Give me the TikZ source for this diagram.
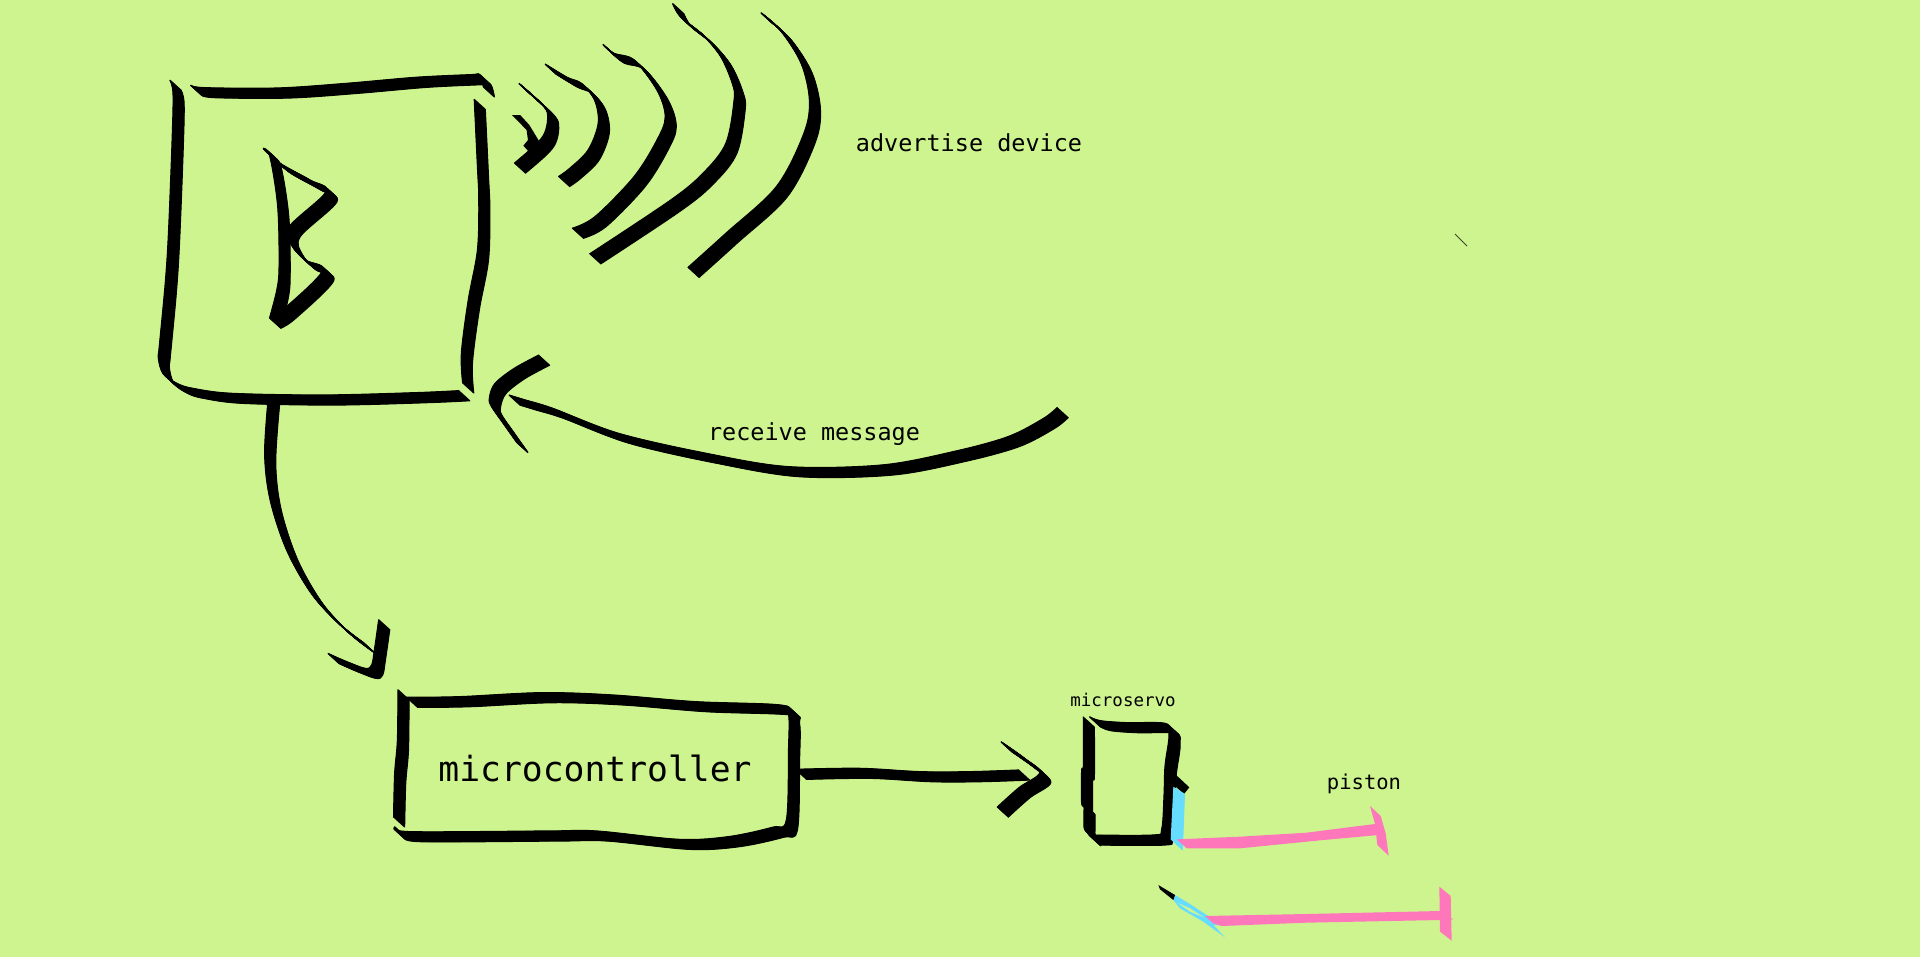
\documentclass[tikz,border=0pt]{standalone}
\usepackage{fontspec}
\setmonofont{DejaVu Sans Mono}
\definecolor{paper}{HTML}{CEF48F}
\definecolor{wire}{HTML}{66DDFF}
\definecolor{rod}{HTML}{FF77BB}
% calligraphic pen: the path is swept along the nib vector (#1,#2) in pixels
\newcommand{\inkstroke}[3]{%
  \foreach \t in {0,...,24}{%
    \draw[ink,shift={({\t/24*#1*0.75pt},{-\t/24*#2*0.75pt})}] plot[smooth,tension=0.55] coordinates {#3};
  }}
\tikzset{
  ink/.style={line width=0.9pt,black,line join=round},
  label/.style={font=\ttfamily,inner sep=0pt,text=black},
  viewA/.style={shift={(140,0)},x=0.34435pt,y=-0.25pt},
  viewB/.style={shift={(240,340)},x=0.41141pt,y=-0.25pt},
  viewC/.style={shift={(1040,680)},x=0.25pt,y=-0.25pt},
}
\begin{document}
\begin{tikzpicture}[x=0.75pt,y=-0.75pt]
\useasboundingbox (0,0) rectangle (1920,957);
\fill[paper] (0,0) rectangle (1920,957);

% Bluetooth box and signal waves
\begin{scope}[viewA]
\inkstroke{11}{10}{(65,240) (72,280) (70,420) (62,700) (55,850) (42,1040) (40,1075) (50,1120) (80,1150) (115,1165) (200,1180) (400,1185) (600,1178) (695,1172)}
\inkstroke{11}{10}{(110,255) (140,263) (300,264) (450,250) (600,232) (720,224) (740,224) (748,262)}
\inkstroke{11}{10}{(728,297) (735,500) (738,600) (735,750) (715,900) (700,1060) (703,1150)}
\inkstroke{11}{10}{(268,445) (283,470) (300,620) (303,800) (298,870) (282,955)}
\inkstroke{11}{10}{(282,955) (315,925) (398,812) (360,780) (330,735) (325,680) (405,575) (370,540) (305,490) (268,445)}
\fill[black] (810,345) -- (828,345) -- (848,375) -- (872,430) -- (850,460) -- (835,437) -- (845,420) -- (842,390) -- (828,370) -- cycle;
\inkstroke{11}{10}{(825,250) (880,320) (888,355) (881,400) (861,435) (815,490)}
\inkstroke{11}{10}{(882,192) (930,232) (961,250) (990,300) (998,370) (976,450) (936,505) (911,530)}
\inkstroke{11}{10}{(1008,133) (1032,160) (1076,180) (1126,270) (1144,350) (1126,420) (1076,530) (991,650) (941,685)}
\inkstroke{11}{10}{(1160,10) (1177,50) (1226,105) (1265,170) (1290,250) (1294,300) (1276,430) (1226,520) (1156,600) (979,762)}
\inkstroke{11}{10}{(1352,38) (1396,93) (1440,190) (1458,300) (1446,400) (1386,560) (1276,700) (1193,803)}
\end{scope}

% receive arrow, link down, microcontroller, output arrow
\begin{scope}[viewB]
\inkstroke{11}{10}{(490,165) (520,180) (570,205) (690,280) (850,340) (1000,380) (1170,375) (1300,335) (1400,290) (1465,235) (1490,202)}
\inkstroke{11}{10}{(545,45) (500,85) (465,130) (455,170) (457,195) (480,250) (505,308)}
\inkstroke{11}{10}{(52,165) (45,340) (55,480) (85,630) (130,760) (180,850) (225,908)}
\inkstroke{11}{10}{(253,838) (245,930) (240,975) (228,985) (190,962) (160,940)}
\inkstroke{11}{10}{(288,1048) (287,1200) (282,1300) (280,1432)}
\inkstroke{11}{10}{(303,1072) (400,1070) (550,1058) (680,1065) (830,1085) (985,1095) (1000,1122) (1000,1230) (996,1440) (970,1462) (890,1490) (800,1498) (650,1473) (560,1473) (310,1475) (283,1460)}
\inkstroke{11}{10}{(1012,1288) (1130,1285) (1240,1295) (1330,1295) (1420,1290)}
\inkstroke{11}{10}{(1387,1205) (1430,1255) (1458,1298) (1420,1343) (1380,1402)}
\end{scope}

% microservo and pistons
\begin{scope}[viewC]
\inkstroke{11}{10}{(148,110) (180,122) (260,128) (375,130) (387,160) (385,190) (375,260) (372,350) (365,448) (340,465) (150,465)}
\inkstroke{11}{10}{(130,110) (130,260) (125,270) (125,370) (132,375) (132,440) (140,455) (150,468)}
\fill[black] (405,282) -- (448,322) -- (432,342) -- (398,312) -- cycle;
\fill[wire] (400,320) -- (435,342) -- (430,475) -- (428,512) -- (392,478) -- cycle;
\fill[rod] (410,478) -- (600,470) -- (800,458) -- (940,440) -- (1005,432) -- (1015,465) -- (850,480) -- (600,505) -- (440,505) -- cycle;
\fill[rod] (990,378) -- (1022,408) -- (1037,460) -- (1046,527) -- (1012,495) -- (1005,432) -- cycle;
\fill[wire] (358,620) -- (405,645) -- (450,672) -- (500,705) -- (545,735) -- (520,735) -- (555,772) -- (490,725) -- (420,685) -- (400,660) -- cycle;
\fill[paper] (412,668) -- (450,685) -- (492,712) -- (450,695) -- cycle;
\fill[black] (355,615) -- (405,645) -- (400,660) -- (360,628) -- cycle;
\fill[rod] (495,708) -- (800,702) -- (1200,693) -- (1240,718) -- (1200,720) -- (800,728) -- (545,738) -- (520,730) -- cycle;
\fill[rod] (1198,620) -- (1232,648) -- (1235,782) -- (1200,755) -- cycle;
\end{scope}

% stray tick
\draw[black!70!paper,line width=0.6pt] (1455,234) -- (1467,246);

\node[label,font=\ttfamily\fontsize{17.6}{20}\selectfont] (advertise) at (969,143) {advertise device};
\node[label,font=\ttfamily\fontsize{17.6}{20}\selectfont] (receive) at (814,434) {receive message};
\node[label,font=\ttfamily\fontsize{26}{30}\selectfont] (controller) at (595,768) {microcontroller};
\node[label,font=\ttfamily\fontsize{13.1}{16}\selectfont] (servo) at (1123,700) {microservo};
\node[label,font=\ttfamily\fontsize{15.4}{18}\selectfont] (piston) at (1364,784) {piston};
\end{tikzpicture}
\end{document}
